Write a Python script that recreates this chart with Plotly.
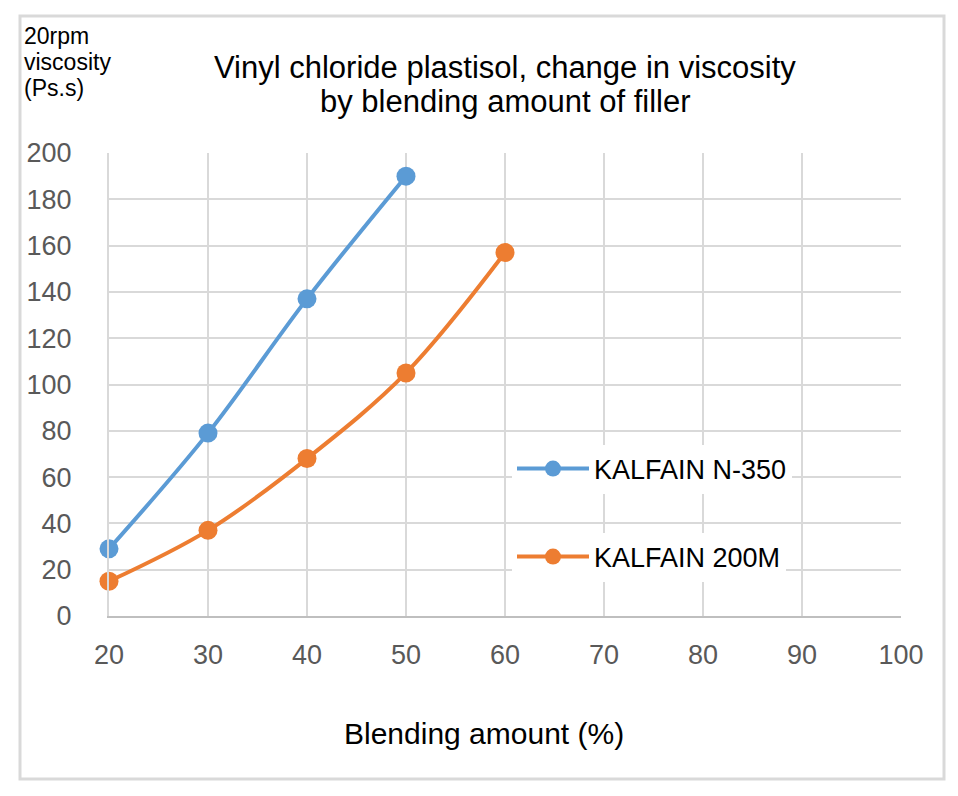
import plotly.graph_objects as go

blend_n350 = [20, 30, 40, 50]
visc_n350 = [29, 79, 137, 190]
blend_200m = [20, 30, 40, 50, 60]
visc_200m = [15, 37, 68, 105, 157]
name_n350 = "KALFAIN N-350"
name_200m = "KALFAIN 200M"
x_ticks = [20, 30, 40, 50, 60, 70, 80, 90, 100]
y_ticks = [0, 20, 40, 60, 80, 100, 120, 140, 160, 180, 200]

FONT = "Liberation Sans, Arial, sans-serif"
BLUE = "#5B9BD5"
ORANGE = "#ED7D31"
GRID = "#d9d9d9"

fig = go.Figure()
fig.add_trace(go.Scatter(
    x=blend_n350, y=visc_n350, name=name_n350, mode="lines+markers",
    line=dict(color=BLUE, width=4, shape="spline"),
    marker=dict(color=BLUE, size=19), legend="legend", cliponaxis=False))
fig.add_trace(go.Scatter(
    x=blend_200m, y=visc_200m, name=name_200m, mode="lines+markers",
    line=dict(color=ORANGE, width=4, shape="spline"),
    marker=dict(color=ORANGE, size=19), legend="legend2", cliponaxis=False))

L, R, T, B = 109, 57, 153, 180
W, H = 958, 796
pw, ph = W - L - R, H - T - B

def px(xp):
    return (xp - L) / pw

def py(yp):
    return (H - B - yp) / ph

fig.update_layout(
    width=W, height=H,
    margin=dict(l=L, r=R, t=T, b=B),
    paper_bgcolor="white", plot_bgcolor="white",
    font=dict(family=FONT, color="#595959"),
    showlegend=True,
    legend=dict(x=px(512), y=py(469), xanchor="left", yanchor="middle",
                bgcolor="white", font=dict(size=27, color="#000000", family=FONT),
                itemwidth=72),
    legend2=dict(x=px(512), y=py(557), xanchor="left", yanchor="middle",
                 bgcolor="white", font=dict(size=27, color="#000000", family=FONT),
                 itemwidth=72),
    xaxis=dict(range=[20, 100], tickvals=x_ticks, showgrid=True, gridcolor=GRID,
               gridwidth=2, zeroline=False, showline=True, linecolor="#bfbfbf",
               linewidth=2, mirror=False, tickfont=dict(size=27, color="#595959"),
               ticks="", ticklabelstandoff=14),
    yaxis=dict(range=[0, 200], tickvals=y_ticks, showgrid=True, gridcolor=GRID,
               gridwidth=2, zeroline=False, showline=True, linecolor=GRID,
               linewidth=2, tickfont=dict(size=27, color="#595959"),
               ticks="", ticklabelstandoff=30),
)

fig.add_shape(type="rect", xref="paper", yref="paper",
              x0=px(20), x1=px(944), y0=py(779), y1=py(16),
              line=dict(color=GRID, width=3), fillcolor="rgba(0,0,0,0)", layer="below")

for txt, yc in [("Vinyl chloride plastisol, change in viscosity", 67),
                ("by blending amount of filler", 101)]:
    fig.add_annotation(text=txt, xref="paper", yref="paper", x=px(505), y=py(yc),
                       xanchor="center", yanchor="middle", showarrow=False,
                       font=dict(size=31, color="#000000", family=FONT))

fig.add_annotation(text="Blending amount (%)", xref="paper", yref="paper",
                   x=px(484), y=py(733), xanchor="center", yanchor="middle",
                   showarrow=False, font=dict(size=30, color="#000000", family=FONT))

for txt, yc in [("20rpm", 36), ("viscosity", 62), ("(Ps.s)", 88)]:
    fig.add_annotation(text=txt, xref="paper", yref="paper", x=px(22), y=py(yc),
                       xanchor="left", yanchor="middle", showarrow=False,
                       font=dict(size=23, color="#000000", family=FONT))

fig.write_html("out.html")
